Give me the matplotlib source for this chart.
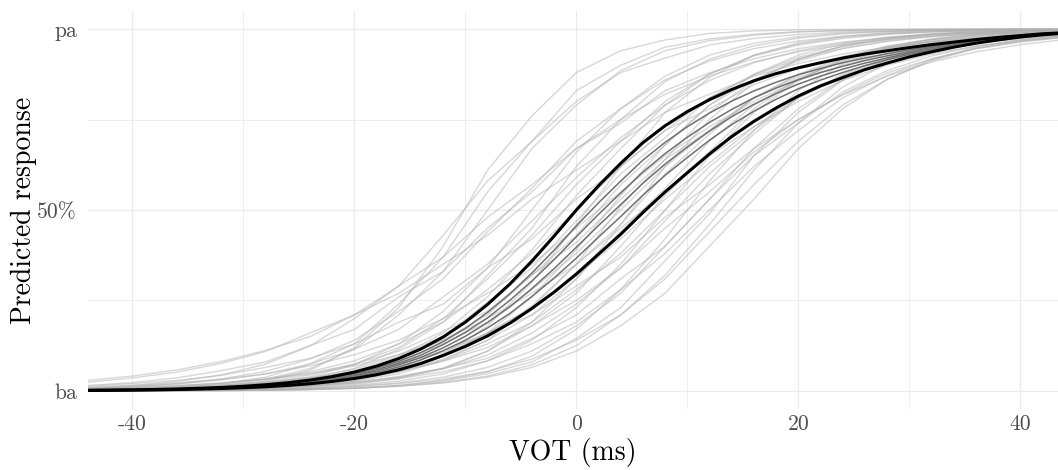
import matplotlib
matplotlib.use("Agg")
import matplotlib.pyplot as plt

plt.rcParams['font.family'] = ['cmr10', 'DejaVu Serif']
plt.rcParams['axes.unicode_minus'] = False

# VOT grid (ms) for the light sample curves
vot = [-44, -40, -36, -32, -28, -24, -20, -16, -12, -8, -4, 0,
       4, 8, 12, 16, 20, 24, 28, 32, 36, 40, 44]
# finer VOT grid (ms) for the dark and black curves
vot_fine = [-44, -42, -40, -38, -36, -34, -32, -30, -28, -26, -24, -22, -20, -18, -16,
            -14, -12, -10, -8, -6, -4, -2, 0, 2, 4, 6, 8, 10, 12, 14, 16, 18, 20,
            22, 24, 26, 28, 30, 32, 34, 36, 38, 40, 42, 44]

# light grey curves, early category boundary
light_left = [
    [0.001, 0.002, 0.005, 0.012, 0.027, 0.057, 0.12, 0.23, 0.40, 0.61, 0.76, 0.88, 0.94, 0.97, 0.988, 0.995, 0.998, 0.999, 1, 1, 1, 1, 1],
    [0.008, 0.015, 0.026, 0.044, 0.074, 0.124, 0.20, 0.29, 0.43, 0.58, 0.69, 0.80, 0.88, 0.92, 0.956, 0.974, 0.985, 0.992, 0.995, 0.997, 0.998, 0.999, 0.999],
    [0.002, 0.004, 0.008, 0.017, 0.032, 0.062, 0.115, 0.21, 0.33, 0.50, 0.67, 0.79, 0.885, 0.94, 0.968, 0.983, 0.992, 0.996, 0.998, 0.999, 1, 1, 1],
    [0.024, 0.036, 0.052, 0.076, 0.109, 0.16, 0.21, 0.29, 0.37, 0.48, 0.57, 0.67, 0.75, 0.82, 0.87, 0.909, 0.937, 0.957, 0.971, 0.98, 0.987, 0.991, 0.994],
    [0.007, 0.012, 0.02, 0.033, 0.054, 0.088, 0.14, 0.22, 0.31, 0.44, 0.56, 0.69, 0.78, 0.86, 0.912, 0.946, 0.967, 0.98, 0.988, 0.993, 0.996, 0.997, 0.998],
    [0.029, 0.041, 0.058, 0.081, 0.112, 0.15, 0.21, 0.27, 0.35, 0.43, 0.53, 0.61, 0.69, 0.77, 0.82, 0.87, 0.905, 0.931, 0.951, 0.965, 0.976, 0.983, 0.988],
    [0.002, 0.003, 0.006, 0.011, 0.021, 0.039, 0.072, 0.13, 0.22, 0.34, 0.50, 0.66, 0.78, 0.87, 0.928, 0.961, 0.979, 0.989, 0.994, 0.997, 0.998, 0.999, 1],
    [0.007, 0.012, 0.019, 0.03, 0.047, 0.074, 0.115, 0.17, 0.26, 0.35, 0.47, 0.59, 0.70, 0.79, 0.858, 0.907, 0.94, 0.962, 0.976, 0.985, 0.991, 0.994, 0.996],
    [0.003, 0.005, 0.008, 0.015, 0.026, 0.044, 0.074, 0.12, 0.20, 0.31, 0.43, 0.57, 0.69, 0.80, 0.876, 0.926, 0.956, 0.974, 0.985, 0.992, 0.995, 0.997, 0.998],
    [0.003, 0.005, 0.01, 0.02, 0.038, 0.075, 0.13, 0.24, 0.37, 0.55, 0.69, 0.83, 0.90, 0.95, 0.973, 0.986, 0.993, 0.996, 0.998, 0.999, 1, 1, 1],
    [0.015, 0.023, 0.036, 0.056, 0.08, 0.125, 0.17, 0.26, 0.33, 0.45, 0.55, 0.67, 0.74, 0.83, 0.879, 0.918, 0.946, 0.964, 0.977, 0.985, 0.99, 0.994, 0.996],
    [0.001, 0.003, 0.005, 0.01, 0.018, 0.034, 0.062, 0.115, 0.19, 0.32, 0.45, 0.62, 0.75, 0.855, 0.917, 0.954, 0.975, 0.987, 0.993, 0.996, 0.998, 0.999, 0.999],
]

# light grey curves, boundary near 0 ms
light_mid = [
    [0.002, 0.003, 0.005, 0.009, 0.017, 0.031, 0.055, 0.095, 0.16, 0.26, 0.39, 0.54, 0.67, 0.79, 0.875, 0.928, 0.959, 0.977, 0.987, 0.993, 0.996, 0.998, 0.999],
    [0.005, 0.008, 0.013, 0.021, 0.034, 0.053, 0.083, 0.13, 0.19, 0.28, 0.38, 0.50, 0.62, 0.72, 0.81, 0.872, 0.917, 0.947, 0.966, 0.979, 0.987, 0.992, 0.995],
    [0, 0.001, 0.002, 0.004, 0.007, 0.014, 0.027, 0.053, 0.10, 0.18, 0.30, 0.46, 0.62, 0.77, 0.866, 0.928, 0.962, 0.98, 0.99, 0.995, 0.997, 0.999, 0.999],
    [0.003, 0.004, 0.007, 0.012, 0.02, 0.033, 0.054, 0.088, 0.14, 0.21, 0.32, 0.43, 0.57, 0.68, 0.79, 0.861, 0.912, 0.946, 0.967, 0.98, 0.988, 0.993, 0.996],
    [0.01, 0.015, 0.022, 0.032, 0.047, 0.069, 0.10, 0.14, 0.20, 0.27, 0.35, 0.45, 0.55, 0.65, 0.73, 0.80, 0.858, 0.90, 0.931, 0.953, 0.968, 0.978, 0.985],
    [0.001, 0.002, 0.003, 0.005, 0.009, 0.017, 0.031, 0.055, 0.095, 0.16, 0.26, 0.39, 0.54, 0.68, 0.79, 0.875, 0.928, 0.959, 0.977, 0.987, 0.993, 0.996, 0.998],
    [0.003, 0.005, 0.008, 0.013, 0.021, 0.034, 0.053, 0.083, 0.13, 0.19, 0.28, 0.38, 0.50, 0.62, 0.72, 0.81, 0.872, 0.917, 0.947, 0.966, 0.979, 0.987, 0.992],
    [0, 0.001, 0.001, 0.003, 0.005, 0.01, 0.018, 0.034, 0.062, 0.11, 0.19, 0.31, 0.46, 0.62, 0.75, 0.853, 0.917, 0.954, 0.975, 0.987, 0.993, 0.996, 0.998],
    [0.002, 0.003, 0.004, 0.007, 0.012, 0.02, 0.033, 0.054, 0.088, 0.14, 0.21, 0.31, 0.44, 0.56, 0.69, 0.79, 0.861, 0.912, 0.946, 0.967, 0.98, 0.988, 0.993],
    [0.013, 0.02, 0.029, 0.043, 0.065, 0.09, 0.13, 0.19, 0.24, 0.34, 0.42, 0.53, 0.62, 0.72, 0.78, 0.846, 0.891, 0.924, 0.948, 0.964, 0.976, 0.984, 0.989],
    [0.003, 0.005, 0.008, 0.014, 0.023, 0.037, 0.06, 0.10, 0.15, 0.245, 0.34, 0.47, 0.60, 0.70, 0.81, 0.875, 0.922, 0.952, 0.971, 0.983, 0.99, 0.994, 0.996],
    [0.006, 0.009, 0.014, 0.021, 0.032, 0.049, 0.074, 0.11, 0.165, 0.22, 0.32, 0.41, 0.53, 0.64, 0.72, 0.81, 0.866, 0.91, 0.94, 0.961, 0.974, 0.983, 0.989],
    [0.001, 0.001, 0.002, 0.004, 0.008, 0.015, 0.027, 0.047, 0.085, 0.14, 0.235, 0.35, 0.51, 0.64, 0.77, 0.858, 0.917, 0.953, 0.973, 0.985, 0.992, 0.995, 0.998],
    [0.002, 0.003, 0.005, 0.008, 0.014, 0.023, 0.037, 0.063, 0.097, 0.16, 0.23, 0.35, 0.46, 0.60, 0.71, 0.81, 0.875, 0.922, 0.952, 0.971, 0.983, 0.99, 0.994],
]

# light grey curves, late boundary
light_right = [
    [0.004, 0.006, 0.009, 0.014, 0.021, 0.032, 0.049, 0.074, 0.11, 0.16, 0.23, 0.32, 0.42, 0.53, 0.63, 0.73, 0.81, 0.866, 0.91, 0.94, 0.961, 0.974, 0.983],
    [0, 0.001, 0.001, 0.002, 0.004, 0.008, 0.015, 0.027, 0.047, 0.083, 0.14, 0.23, 0.35, 0.50, 0.65, 0.77, 0.858, 0.917, 0.953, 0.973, 0.985, 0.992, 0.995],
    [0.002, 0.003, 0.005, 0.008, 0.013, 0.021, 0.034, 0.053, 0.083, 0.13, 0.19, 0.28, 0.38, 0.50, 0.62, 0.72, 0.81, 0.872, 0.917, 0.947, 0.966, 0.979, 0.987],
    [0.001, 0.002, 0.003, 0.005, 0.008, 0.014, 0.023, 0.037, 0.061, 0.099, 0.16, 0.24, 0.34, 0.47, 0.60, 0.71, 0.81, 0.875, 0.922, 0.952, 0.971, 0.983, 0.99],
    [0, 0, 0.001, 0.001, 0.002, 0.004, 0.008, 0.015, 0.029, 0.053, 0.096, 0.17, 0.28, 0.42, 0.58, 0.72, 0.83, 0.904, 0.947, 0.971, 0.985, 0.992, 0.996],
    [0.003, 0.004, 0.006, 0.01, 0.015, 0.023, 0.036, 0.054, 0.082, 0.12, 0.18, 0.25, 0.34, 0.45, 0.55, 0.66, 0.75, 0.82, 0.879, 0.918, 0.946, 0.964, 0.977],
    [0, 0.001, 0.001, 0.002, 0.004, 0.007, 0.013, 0.022, 0.038, 0.065, 0.11, 0.18, 0.27, 0.40, 0.53, 0.67, 0.78, 0.861, 0.915, 0.95, 0.971, 0.983, 0.99],
    [0.001, 0.002, 0.003, 0.005, 0.008, 0.013, 0.021, 0.034, 0.053, 0.083, 0.13, 0.19, 0.28, 0.38, 0.50, 0.62, 0.72, 0.81, 0.872, 0.917, 0.947, 0.966, 0.979],
    [0, 0, 0.001, 0.001, 0.002, 0.004, 0.007, 0.013, 0.023, 0.041, 0.072, 0.125, 0.21, 0.32, 0.46, 0.61, 0.74, 0.84, 0.905, 0.945, 0.969, 0.983, 0.99],
    [0.001, 0.001, 0.002, 0.003, 0.004, 0.007, 0.012, 0.02, 0.033, 0.054, 0.088, 0.14, 0.21, 0.31, 0.44, 0.57, 0.69, 0.79, 0.861, 0.912, 0.946, 0.967, 0.98],
    [0, 0, 0.001, 0.001, 0.002, 0.004, 0.007, 0.013, 0.022, 0.038, 0.065, 0.11, 0.18, 0.27, 0.40, 0.53, 0.67, 0.78, 0.861, 0.915, 0.95, 0.971, 0.983],
    [0.007, 0.01, 0.015, 0.022, 0.032, 0.047, 0.069, 0.10, 0.14, 0.20, 0.27, 0.35, 0.45, 0.55, 0.65, 0.73, 0.80, 0.858, 0.90, 0.931, 0.953, 0.968, 0.978],
    [0.001, 0.001, 0.002, 0.004, 0.007, 0.013, 0.022, 0.04, 0.063, 0.11, 0.18, 0.27, 0.40, 0.54, 0.66, 0.78, 0.861, 0.915, 0.95, 0.971, 0.983, 0.99, 0.994],
    [0.005, 0.007, 0.011, 0.016, 0.024, 0.036, 0.052, 0.078, 0.105, 0.16, 0.21, 0.29, 0.37, 0.48, 0.57, 0.67, 0.75, 0.818, 0.87, 0.909, 0.937, 0.957, 0.971],
    [0.001, 0.002, 0.004, 0.006, 0.009, 0.015, 0.024, 0.038, 0.062, 0.09, 0.145, 0.21, 0.31, 0.40, 0.53, 0.65, 0.74, 0.826, 0.885, 0.926, 0.953, 0.97, 0.981],
    [0, 0, 0.001, 0.001, 0.002, 0.004, 0.008, 0.015, 0.027, 0.048, 0.08, 0.145, 0.23, 0.36, 0.49, 0.65, 0.77, 0.858, 0.917, 0.953, 0.973, 0.985, 0.992],
]

# dark grey curves between the two black ones (on vot_fine)
dark_curves = [
    [0.0016, 0.0021, 0.0028, 0.0037, 0.0050, 0.0067, 0.0089, 0.0117, 0.0156, 0.0207, 0.0274, 0.0362, 0.0476, 0.0626, 0.0817,
     0.106, 0.136, 0.173, 0.217, 0.268, 0.326, 0.389, 0.456, 0.520, 0.580, 0.638, 0.687, 0.730, 0.768, 0.801, 0.829, 0.853,
     0.874, 0.891, 0.907, 0.920, 0.932, 0.943, 0.952, 0.960, 0.968, 0.975, 0.981, 0.986, 0.990],
    [0.0015, 0.0020, 0.0027, 0.0035, 0.0047, 0.0063, 0.0083, 0.0110, 0.0146, 0.0194, 0.0257, 0.0339, 0.0445, 0.0585, 0.0765,
     0.099, 0.128, 0.162, 0.202, 0.250, 0.304, 0.363, 0.426, 0.488, 0.547, 0.605, 0.656, 0.701, 0.742, 0.778, 0.810, 0.837,
     0.860, 0.880, 0.897, 0.913, 0.926, 0.938, 0.949, 0.958, 0.967, 0.974, 0.980, 0.986, 0.990],
    [0.0014, 0.0019, 0.0025, 0.0033, 0.0045, 0.0059, 0.0079, 0.0104, 0.0138, 0.0182, 0.0240, 0.0317, 0.0417, 0.0547, 0.0715,
     0.0927, 0.119, 0.151, 0.189, 0.232, 0.283, 0.338, 0.397, 0.457, 0.515, 0.574, 0.627, 0.674, 0.718, 0.758, 0.792, 0.822,
     0.848, 0.870, 0.889, 0.906, 0.920, 0.934, 0.945, 0.956, 0.965, 0.973, 0.980, 0.985, 0.989],
    [0.0013, 0.0018, 0.0024, 0.0031, 0.0042, 0.0056, 0.0074, 0.0097, 0.0128, 0.0170, 0.0223, 0.0295, 0.0387, 0.0507, 0.0662,
     0.0859, 0.111, 0.140, 0.174, 0.214, 0.261, 0.312, 0.367, 0.425, 0.482, 0.541, 0.596, 0.645, 0.693, 0.736, 0.773, 0.806,
     0.835, 0.859, 0.880, 0.899, 0.915, 0.930, 0.942, 0.954, 0.964, 0.972, 0.979, 0.985, 0.989],
]

# black bounding curves (on vot_fine)
upper_black = [0.0017, 0.0023, 0.0030, 0.0040, 0.0054, 0.0072, 0.0096, 0.0127, 0.0170, 0.0225, 0.0299, 0.0395, 0.052, 0.0685, 0.0895,
               0.116, 0.149, 0.190, 0.239, 0.295, 0.359, 0.428, 0.5, 0.567, 0.629, 0.686, 0.733, 0.772, 0.805, 0.833, 0.857, 0.877,
               0.893, 0.907, 0.920, 0.931, 0.940, 0.949, 0.957, 0.964, 0.971, 0.977, 0.982, 0.987, 0.990]
lower_black = [0.0012, 0.0016, 0.0022, 0.0028, 0.0038, 0.0050, 0.0066, 0.0087, 0.0114, 0.0151, 0.0198, 0.0261, 0.0342, 0.0447, 0.0584,
               0.0759, 0.098, 0.123, 0.152, 0.187, 0.228, 0.273, 0.323, 0.378, 0.433, 0.493, 0.550, 0.603, 0.655, 0.703, 0.745, 0.782,
               0.815, 0.843, 0.866, 0.888, 0.906, 0.923, 0.937, 0.950, 0.961, 0.970, 0.978, 0.984, 0.989]

x_major = [-40, -20, 0, 20, 40]
x_labels = ['-40', '-20', '0', '20', '40']
x_minor = [-30, -10, 10, 30]
y_major = [0, 0.5, 1]
y_labels = ['ba', '50%', 'pa']
y_minor = [0.25, 0.75]

fig = plt.figure(figsize=(10.58, 4.70), dpi=100)
ax = fig.add_axes([0.0832, 0.1298, 0.9168, 0.8468])

for curve in light_left + light_mid + light_right:
    ax.plot(vot, curve, color='#b0b0b0', alpha=0.5, lw=1.0, zorder=2)
for curve in dark_curves:
    ax.plot(vot_fine, curve, color='#707070', lw=1.1, zorder=3)
ax.plot(vot_fine, upper_black, color='black', lw=2.2, zorder=4)
ax.plot(vot_fine, lower_black, color='black', lw=2.2, zorder=4)

ax.set_xlim(-44, 43.4)
ax.set_ylim(-0.05, 1.05)
ax.set_xticks(x_major)
ax.set_xticklabels(x_labels)
ax.set_xticks(x_minor, minor=True)
ax.set_yticks(y_major)
ax.set_yticklabels(y_labels)
ax.set_yticks(y_minor, minor=True)

ax.grid(which='major', color='#ebebeb', lw=0.9, zorder=0)
ax.grid(which='minor', color='#ebebeb', lw=0.6, zorder=0)
ax.set_axisbelow(True)
for s in ax.spines.values():
    s.set_visible(False)
ax.tick_params(which='both', length=0, labelsize=15.5, labelcolor='#4d4d4d')
ax.tick_params(axis='x', pad=4)
ax.tick_params(axis='y', pad=8)

ax.set_xlabel('VOT (ms)', fontsize=20, labelpad=3)
ax.set_ylabel('Predicted response', fontsize=20, labelpad=0)

fig.savefig('out.png', dpi=100)
